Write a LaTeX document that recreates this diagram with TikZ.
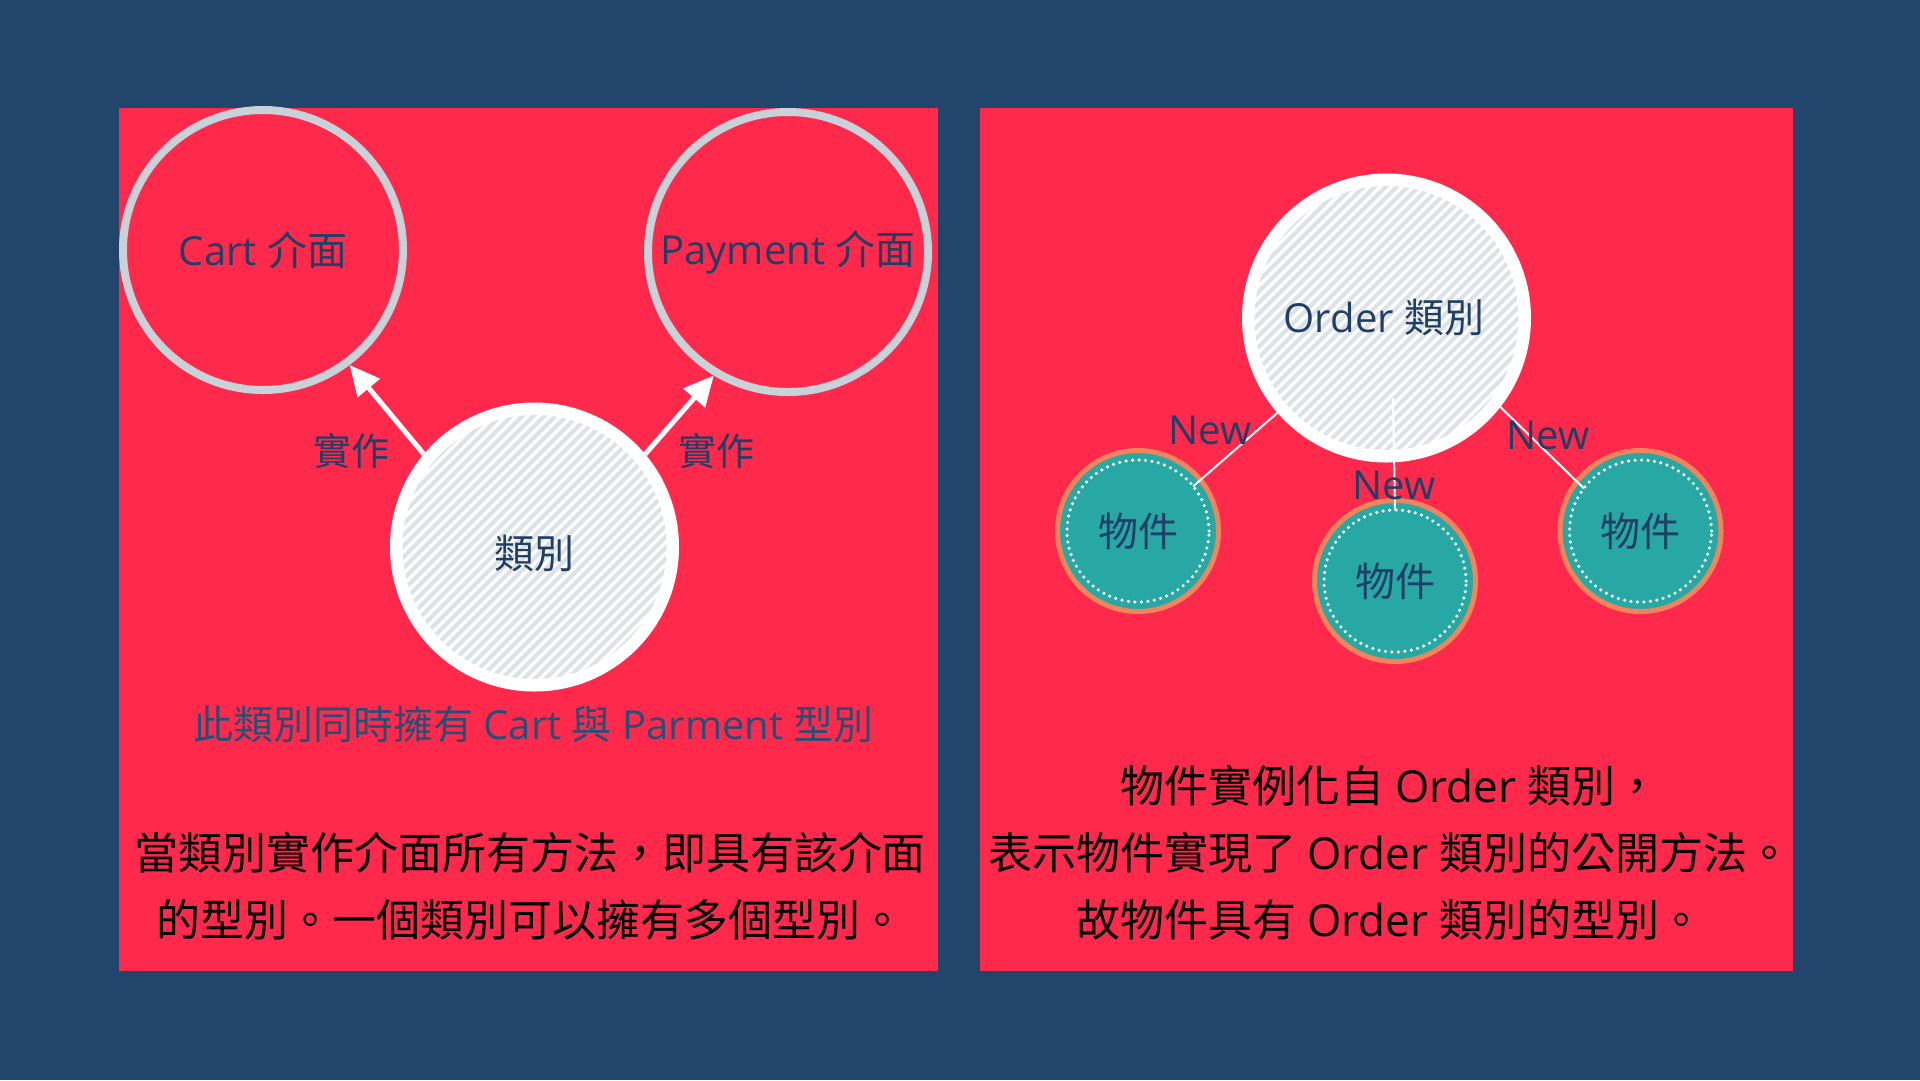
\documentclass[tikz,border=0pt]{standalone}
\usepackage{fontspec}
\setmainfont{Open Sans}
\newfontfamily\cjk{Noto Sans CJK TC}
\usetikzlibrary{arrows.meta}
\definecolor{bgnavy}{HTML}{21456B}
\definecolor{panelred}{HTML}{FF2A4B}
\definecolor{ink}{HTML}{1F3F66}
\definecolor{subink}{HTML}{235078}
\definecolor{ringgray}{HTML}{C9D1D9}
\definecolor{stripecol}{HTML}{DCE2E8}
\definecolor{tealfill}{HTML}{28A8A4}
\definecolor{orangeedge}{HTML}{F0845A}
\tikzset{
  iface/.style={circle, draw=ringgray, line width=8pt, minimum size=280pt, inner sep=0pt, text=ink, font=\fontsize{40}{48}\selectfont},
  classdisk/.style={circle, fill=white, minimum size=289pt, inner sep=0pt, outer sep=0pt, text=ink, font=\fontsize{40}{48}\selectfont},
  objdisk/.style={circle, fill=tealfill, draw=orangeedge, line width=5pt, minimum size=161pt, inner sep=0pt, text=ink, font=\fontsize{40}{48}\selectfont\cjk},
  objring/.style={circle, draw=white, line width=3.5pt, dash pattern=on 0pt off 6.5pt, line cap=round, minimum size=142pt, inner sep=0pt, outer sep=0pt},
  implarrow/.style={draw=white, line width=5pt, -{Triangle[length=30pt,width=28pt]}},
  newline/.style={draw=white, line width=2pt},
  lbl/.style={text=ink, font=\fontsize{40}{48}\selectfont, inner sep=0pt},
  bodytext/.style={text=black, align=center, font=\fontsize{44}{67}\selectfont, inner sep=0pt}
}
\newcommand{\hatchfill}[1]{%
  \begin{scope}
    \clip (#1.center) circle (132pt);
    \begin{scope}[shift={(#1.center)}]
      \foreach \d in {-308,-297,...,308}
        \draw[stripecol, line width=4pt] (\d-160,160) -- (\d+160,-160);
    \end{scope}
  \end{scope}}
\begin{document}
\begin{tikzpicture}[x=1pt, y=-1pt]
\fill[bgnavy] (0,0) rectangle (1920,1080);
\useasboundingbox (0,0) rectangle (1920,1080);
% panels
\fill[panelred] (119,108) rectangle (938,971);
\fill[panelred] (980,108) rectangle (1793,971);

% ---------- left panel ----------
\node[iface] (cart) at (263,250) {Cart {\cjk 介面}};
\node[iface] (pay) at (788,252) {Payment {\cjk 介面}};
\node[classdisk] (cls) at (534.5,547) {};
\hatchfill{cls}
\node[lbl, font=\fontsize{40}{48}\selectfont\cjk] (clstxt) at (534.5,553) {類別};

\draw[implarrow] (cls.140.5) -- (cart.-53.9);
\draw[implarrow] (cls.40.6) -- (pay.239);
\node[lbl, font=\fontsize{38}{46}\selectfont\cjk] (impl1) at (351,451) {實作};
\node[lbl, font=\fontsize{38}{46}\selectfont\cjk] (impl2) at (716,451) {實作};

\node[lbl, text=subink, font=\fontsize{40}{48}\selectfont] (sub) at (533.5,724)
  {{\cjk 此類別同時擁有} Cart {\cjk 與} Parment {\cjk 型別}};

\node[bodytext, font=\fontsize{44}{67}\selectfont\cjk] (leftbody) at (530,886)
  {當類別實作介面所有方法，即具有該介面\\的型別。一個類別可以擁有多個型別。};

% ---------- right panel ----------
\node[classdisk] (order) at (1386.5,318) {};
\hatchfill{order}
\node[lbl] (ordertxt) at (1384,317) {Order {\cjk 類別}};

\node[objdisk] (o1) at (1138,531) {物件};
\node[objring] (o1i) at (1138,531) {};
\node[objdisk] (o2) at (1395,581) {物件};
\node[objring] (o2i) at (1395,581) {};
\node[objdisk] (o3) at (1640.5,531) {物件};
\node[objring] (o3i) at (1640.5,531) {};

\coordinate (mtop) at (1393,398);
\draw[newline] (order.221.3) -- (o1i.39.7);
\draw[newline] (mtop) -- (o2i.north);
\draw[newline] (order.-38.3) -- (o3i.143.8);

\node[lbl] (new1) at (1210,430) {New};
\node[lbl] (new2) at (1394,485) {New};
\node[lbl] (new3) at (1548,435) {New};

\node[bodytext] (rightbody) at (1390,853)
  {{\cjk 物件實例化自} Order {\cjk 類別，}\\{\cjk 表示物件實現了} Order {\cjk 類別的公開方法。}\\{\cjk 故物件具有} Order {\cjk 類別的型別。}};
\end{tikzpicture}
\end{document}
